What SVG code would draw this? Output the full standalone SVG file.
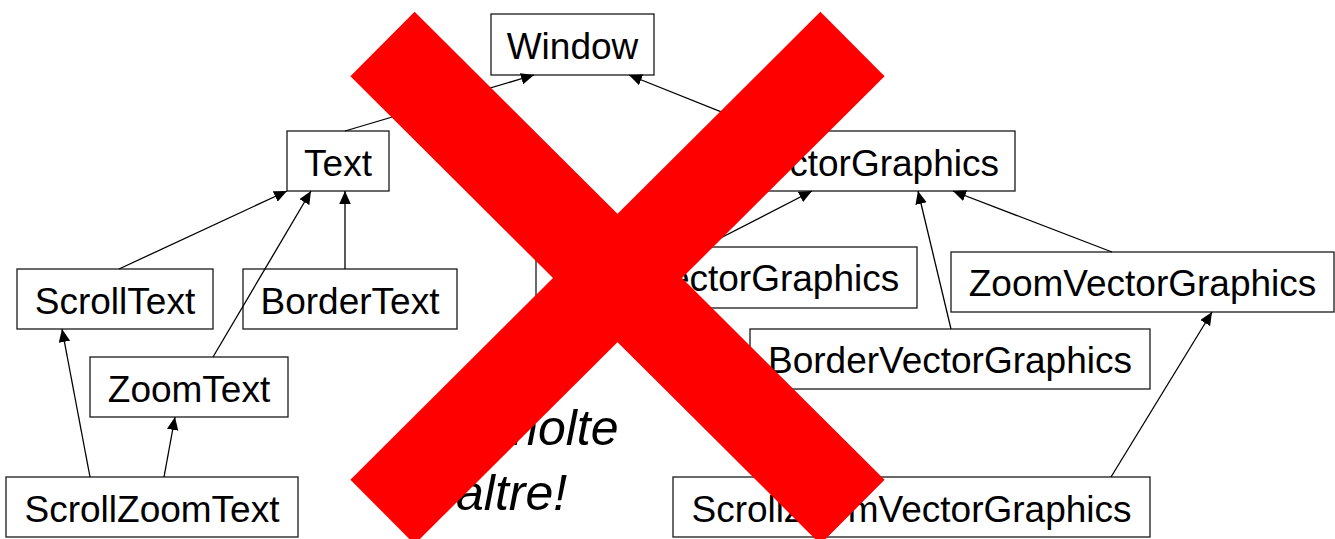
<svg xmlns="http://www.w3.org/2000/svg" width="1335" height="539" viewBox="0 0 1335 539">
  <style>
    .box { fill: none; stroke: #1a1a1a; stroke-width: 1.3; }
    .label { font-family: "Liberation Sans", Arial, sans-serif; font-size: 37px; fill: #000; text-anchor: middle; }
    .edge { stroke: #000; stroke-width: 1.3; fill: none; marker-end: url(#arrow); }
    .note { font-family: "Liberation Sans", Arial, sans-serif; font-size: 50px; font-style: italic; fill: #000; }
    .cross { stroke: #ff0000; stroke-width: 91; stroke-linecap: butt; }
  </style>
  <defs>
    <marker id="arrow" markerUnits="userSpaceOnUse" markerWidth="13" markerHeight="12" refX="13" refY="5.75" orient="auto">
      <path d="M0,0 L13,5.75 L0,11.5 z" fill="#000"/>
    </marker>
  </defs>
  <rect width="1335" height="539" fill="#fff"/>

  <!-- class nodes -->
  <g id="window"><rect class="box" x="491" y="14" width="163" height="61"/><text class="label" x="572.5" y="59">Window</text></g>
  <g id="text"><rect class="box" x="287" y="131" width="102" height="60"/><text class="label" x="338" y="176">Text</text></g>
  <g id="vectorgraphics"><rect class="box" x="730" y="131" width="285" height="60"/><text class="label" x="872.5" y="176">VectorGraphics</text></g>
  <g id="scrolltext"><rect class="box" x="17" y="269" width="196" height="60"/><text class="label" x="115" y="314">ScrollText</text></g>
  <g id="bordertext"><rect class="box" x="243" y="269" width="214" height="60"/><text class="label" x="350" y="314">BorderText</text></g>
  <g id="scrollvectorgraphics"><rect class="box" x="536" y="247" width="381" height="61"/><text class="label" x="726.5" y="291">ScrollVectorGraphics</text></g>
  <g id="zoomvectorgraphics"><rect class="box" x="951" y="252" width="383" height="60"/><text class="label" x="1142.5" y="296">ZoomVectorGraphics</text></g>
  <g id="bordervectorgraphics"><rect class="box" x="750" y="329" width="400" height="60"/><text class="label" x="950" y="373">BorderVectorGraphics</text></g>
  <g id="zoomtext"><rect class="box" x="90" y="357" width="198" height="60"/><text class="label" x="189" y="402">ZoomText</text></g>
  <g id="scrollzoomtext"><rect class="box" x="6" y="477" width="292" height="60"/><text class="label" x="152" y="522">ScrollZoomText</text></g>
  <g id="scrollzoomvectorgraphics"><rect class="box" x="673" y="477" width="477" height="60"/><text class="label" x="911.5" y="522">ScrollZoomVectorGraphics</text></g>

  <!-- inheritance connectors -->
  <g id="connectors">
    <line class="edge" x1="345" y1="131" x2="534" y2="75"/>
    <line class="edge" x1="769" y1="131" x2="629" y2="75"/>
    <line class="edge" x1="119" y1="269" x2="287" y2="191"/>
    <line class="edge" x1="213" y1="357" x2="311" y2="191"/>
    <line class="edge" x1="345" y1="269" x2="345" y2="191"/>
    <line class="edge" x1="90" y1="477" x2="62" y2="329"/>
    <line class="edge" x1="164" y1="477" x2="175" y2="417"/>
    <line class="edge" x1="703" y1="247" x2="812" y2="191"/>
    <line class="edge" x1="951" y1="329" x2="918" y2="191"/>
    <line class="edge" x1="1112" y1="252" x2="953" y2="191"/>
    <line class="edge" x1="1111" y1="477" x2="1212" y2="312"/>
  </g>

  <!-- note -->
  <g id="note">
    <text class="note" x="449" y="445">E molte</text>
    <text class="note" x="456" y="510">altre!</text>
  </g>

  <!-- big red cross over the hierarchy -->
  <g id="cross">
    <line class="cross" x1="382.5" y1="44" x2="852.5" y2="512"/>
    <line class="cross" x1="852.5" y1="44" x2="382.5" y2="512"/>
  </g>
</svg>
